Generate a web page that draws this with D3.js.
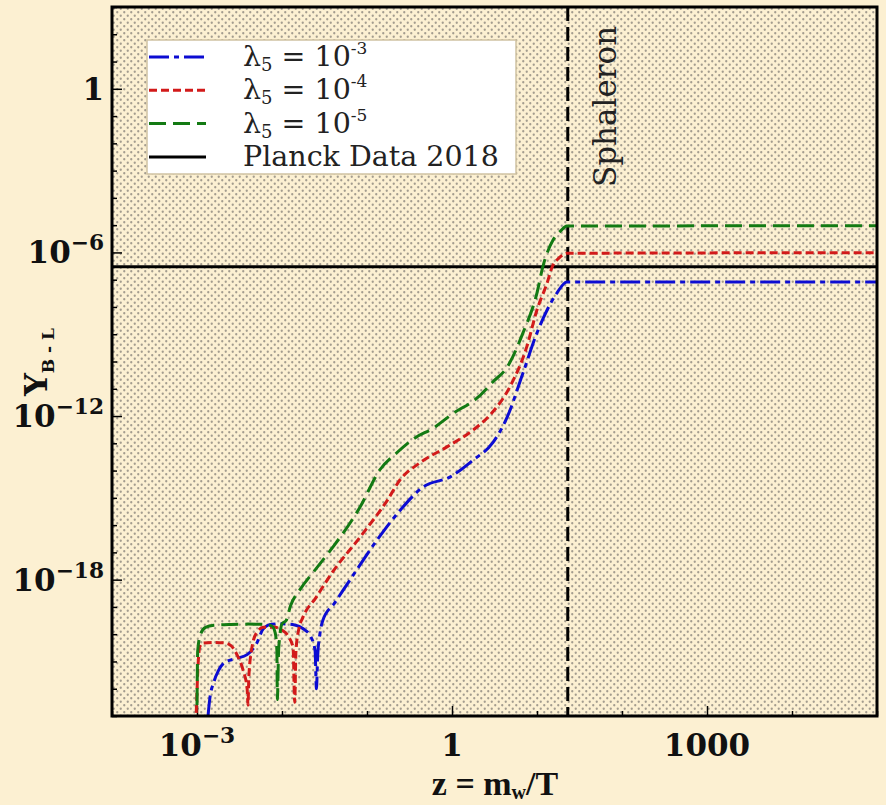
<!DOCTYPE html>
<html>
<head>
<meta charset="utf-8">
<script src="https://cdn.jsdelivr.net/npm/d3@7"></script>
<style>
  html, body { margin: 0; padding: 0; background: #fcf0d2; }
  svg { display: block; }
</style>
</head>
<body>
<svg id="chart" width="886" height="805"></svg>
<script>
// ---- data -------------------------------------------------------------
// z = m_w / T and the B-L asymmetry for three values of lambda_5
const zGreen = [1.0e-3, 1.02e-3, 1.10e-3, 1.26e-3, 1.58e-3, 2.51e-3, 3.98e-3, 6.31e-3, 7.59e-3, 8.32e-3, 8.71e-3, 8.81e-3,
  9.12e-3, 9.33e-3, 1.0e-2, 1.12e-2, 1.26e-2, 1.62e-2, 2.51e-2, 3.98e-2, 8.32e-2, 0.141, 0.224, 0.367, 0.603, 1.0,
  2.04, 3.02, 4.47, 6.84, 10.0, 11.7, 15.5, 19.1, 22.4, 1.0e5];
const yGreen = [2.5e-23, 2.5e-21, 1.0e-20, 1.78e-20, 2.14e-20, 2.29e-20, 2.34e-20, 2.29e-20, 2.0e-20, 1.12e-20, 2.5e-21, 4.0e-23,
  2.5e-21, 6.3e-21, 2.4e-20, 3.2e-20, 1.1e-19, 4.2e-19, 2.5e-18, 1.58e-17, 4.7e-16, 1.05e-14, 4.5e-14, 1.58e-13, 3.6e-13, 1.17e-12,
  5.0e-12, 1.78e-11, 6.3e-11, 1.12e-9, 3.3e-8, 2.95e-7, 2.9e-6, 6.3e-6, 9.3e-6, 9.5e-6];

const zRed = [9.8e-4, 1.035e-3, 1.08e-3, 1.17e-3, 1.58e-3, 2.09e-3, 2.51e-3, 2.95e-3, 3.47e-3, 3.89e-3, 3.98e-3, 4.07e-3,
  4.37e-3, 5.01e-3, 6.03e-3, 7.94e-3, 1.0e-2, 1.20e-2, 1.35e-2, 1.41e-2, 1.46e-2, 1.58e-2, 1.74e-2, 2.51e-2, 3.98e-2,
  8.32e-2, 0.174, 0.245, 0.417, 0.871, 1.78, 2.82, 4.79, 7.59, 10.0, 13.2, 15.1, 18.2, 22.4, 1.0e5];
const yRed = [1.3e-23, 1.0e-21, 3.5e-21, 4.7e-21, 5.0e-21, 4.8e-21, 3.8e-21, 1.78e-21, 5.0e-22, 1.0e-22, 2.5e-23, 2.5e-22,
  2.5e-21, 1.12e-20, 1.78e-20, 1.82e-20, 1.41e-20, 7.9e-21, 3.2e-21, 3.2e-23, 2.5e-21, 1.58e-20, 3.8e-20, 2.2e-19, 2.0e-18,
  3.7e-17, 8.3e-16, 4.6e-15, 1.9e-14, 7.4e-14, 3.1e-13, 1.12e-12, 1.17e-11, 3.5e-10, 7.9e-9, 7.8e-8, 2.95e-7, 6.3e-7, 9.3e-7, 9.8e-7];

const zBlue = [1.35e-3, 1.41e-3, 1.58e-3, 1.78e-3, 2.09e-3, 2.82e-3, 3.89e-3, 5.01e-3, 6.03e-3, 7.59e-3, 1.0e-2, 1.41e-2,
  1.78e-2, 2.19e-2, 2.45e-2, 2.54e-2, 2.63e-2, 2.79e-2, 3.02e-2, 4.17e-2, 6.31e-2, 0.132, 0.245, 0.457, 0.955, 1.78,
  3.02, 4.47, 6.84, 10.0, 13.2, 17.2, 22.4, 1.0e5];
const yBlue = [1.05e-23, 4.0e-23, 1.78e-22, 4.5e-22, 8.9e-22, 1.26e-21, 1.78e-21, 4.5e-21, 1.58e-20, 2.34e-20, 2.4e-20, 2.19e-20,
  1.58e-20, 7.9e-21, 2.5e-21, 1.0e-22, 1.58e-21, 1.0e-20, 3.2e-20, 1.41e-19, 9.8e-19, 2.9e-17, 3.5e-16, 2.5e-15, 5.9e-15, 2.45e-14,
  1.05e-13, 9.3e-13, 3.8e-11, 1.12e-9, 7.9e-9, 3.3e-8, 8.3e-8, 8.3e-8];

const planckValue = 3.0e-7;     // observed asymmetry (horizontal line)
const sphaleronZ = 23;          // sphaleron decoupling (vertical line)

const seriesNames = ["λ5 = 10-3", "λ5 = 10-4", "λ5 = 10-5", "Planck Data 2018"];
const legendExponents = ["-3", "-4", "-5"];

const xMajorTicks = [1e-3, 1, 1e3];
const xMajorLabels = [["10", "−3"], ["1", ""], ["1000", ""]];
const xMinorTicks = [1e-4, 1e-2, 1e-1, 10, 100, 1e4, 1e5];
const yMajorTicks = [1, 1e-6, 1e-12, 1e-18];
const yMajorLabels = [["1", ""], ["10", "−6"], ["10", "−12"], ["10", "−18"]];
const yMinorTicks = [1e3, 1e2, 10, 1e-1, 1e-2, 1e-3, 1e-4, 1e-5, 1e-7, 1e-8, 1e-9, 1e-10, 1e-11,
  1e-13, 1e-14, 1e-15, 1e-16, 1e-17, 1e-19, 1e-20, 1e-21, 1e-22, 1e-23];

// ---- layout -----------------------------------------------------------
const svg = d3.select("#chart");
const W = 886, H = 805;
const plot = { left: 112, right: 877, top: 7, bottom: 716 };

const x = d3.scaleLog().domain([1e-4, 1e5]).range([plot.left, plot.right]);
const y = d3.scaleLog().domain([1e-23, 1e3]).range([plot.bottom, plot.top]);

const defs = svg.append("defs");
// stippled fill of the axes area
const pat = defs.append("pattern")
  .attr("id", "stipple").attr("patternUnits", "userSpaceOnUse")
  .attr("width", 7).attr("height", 7);
pat.append("rect").attr("width", 7).attr("height", 7).attr("fill", "#fcf0d2");
pat.append("circle").attr("cx", 1.75).attr("cy", 1.75).attr("r", 1.15).attr("fill", "#a39c8e");
pat.append("circle").attr("cx", 5.25).attr("cy", 5.25).attr("r", 1.15).attr("fill", "#a39c8e");

defs.append("clipPath").attr("id", "plotClip")
  .append("rect")
  .attr("x", plot.left).attr("y", plot.top)
  .attr("width", plot.right - plot.left).attr("height", plot.bottom - plot.top);

svg.append("rect").attr("width", W).attr("height", H).attr("fill", "#fcf0d2");
svg.append("rect")
  .attr("x", plot.left).attr("y", plot.top)
  .attr("width", plot.right - plot.left).attr("height", plot.bottom - plot.top)
  .attr("fill", "url(#stipple)");

// ---- ticks (inward) ---------------------------------------------------
const tickStyle = g => {
  g.select(".domain").remove();
  g.selectAll(".tick line").attr("stroke", "#000").attr("stroke-width", 1.5);
  g.selectAll(".tick text").remove();
};
svg.append("g").attr("transform", `translate(0,${plot.bottom})`)
  .call(d3.axisBottom(x).tickValues(xMajorTicks).tickSize(-10)).call(tickStyle);
svg.append("g").attr("transform", `translate(0,${plot.bottom})`)
  .call(d3.axisBottom(x).tickValues(xMinorTicks).tickSize(-5)).call(tickStyle);
svg.append("g").attr("transform", `translate(${plot.left},0)`)
  .call(d3.axisLeft(y).tickValues(yMajorTicks).tickSize(-10)).call(tickStyle);
svg.append("g").attr("transform", `translate(${plot.left},0)`)
  .call(d3.axisLeft(y).tickValues(yMinorTicks).tickSize(-5)).call(tickStyle);

// ---- tick labels ------------------------------------------------------
const labelFont = "'DejaVu Serif', serif";
function powerLabel(g, base, exp, size, anchor) {
  const t = g.append("text")
    .attr("font-family", labelFont).attr("font-weight", "bold")
    .attr("font-size", size).attr("fill", "#111").attr("text-anchor", anchor);
  t.append("tspan").text(base);
  if (exp) t.append("tspan").attr("font-size", size * 0.7).attr("dy", -size * 0.42).text(exp);
  return t;
}
xMajorTicks.forEach((v, i) => {
  powerLabel(svg.append("g").attr("transform", `translate(${x(v)},${plot.bottom + 40})`),
    xMajorLabels[i][0], xMajorLabels[i][1], 31, "middle");
});
yMajorTicks.forEach((v, i) => {
  powerLabel(svg.append("g").attr("transform", `translate(${plot.left - 8},${y(v) + 11})`),
    yMajorLabels[i][0], yMajorLabels[i][1], 31, "end");
});

// ---- axis titles ------------------------------------------------------
const xTitle = svg.append("text")
  .attr("x", 495).attr("y", 795)
  .attr("text-anchor", "middle")
  .attr("font-family", "'Liberation Serif', 'DejaVu Serif', serif")
  .attr("font-weight", "bold").attr("font-size", 34).attr("fill", "#111");
xTitle.append("tspan").text("z = m");
xTitle.append("tspan").attr("font-size", 20).attr("dy", 4).text("w");
xTitle.append("tspan").attr("dy", -4).text("/T");

const yTitle = svg.append("text")
  .attr("transform", "translate(47,362) rotate(-90)")
  .attr("text-anchor", "middle")
  .attr("font-family", labelFont)
  .attr("font-weight", "bold").attr("font-size", 32).attr("fill", "#111");
yTitle.append("tspan").text("Y");
yTitle.append("tspan").attr("font-size", 17).attr("dy", 7).text("B - L");

// ---- curves -----------------------------------------------------------
const plotArea = svg.append("g").attr("clip-path", "url(#plotClip)");

const line = d3.line()
  .x(d => x(d[0])).y(d => y(d[1]))
  .curve(d3.curveMonotoneX);

const series = [
  { z: zBlue, v: yBlue, color: "#0c0cd2", dash: "20,5,5,5" },
  { z: zRed, v: yRed, color: "#d21a1a", dash: "8,4" },
  { z: zGreen, v: yGreen, color: "#137a13", dash: "17,7" }
];

// reference lines
plotArea.append("line")
  .attr("x1", plot.left).attr("x2", plot.right)
  .attr("y1", y(planckValue)).attr("y2", y(planckValue))
  .attr("stroke", "#000").attr("stroke-width", 3);
plotArea.append("line")
  .attr("x1", x(sphaleronZ)).attr("x2", x(sphaleronZ))
  .attr("y1", plot.top).attr("y2", plot.bottom)
  .attr("stroke", "#000").attr("stroke-width", 3)
  .attr("stroke-dasharray", "14,6");

series.forEach(s => {
  plotArea.append("path")
    .datum(s.z.map((z, i) => [z, s.v[i]]))
    .attr("d", line)
    .attr("fill", "none")
    .attr("stroke", s.color)
    .attr("stroke-width", 3)
    .attr("stroke-dasharray", s.dash);
});

// sphaleron label
svg.append("text")
  .attr("transform", `translate(${x(sphaleronZ) + 48},187) rotate(-90)`)
  .attr("font-family", labelFont).attr("font-size", 31).attr("fill", "#222")
  .text("Sphaleron");

// ---- frame ------------------------------------------------------------
svg.append("rect")
  .attr("x", plot.left).attr("y", plot.top)
  .attr("width", plot.right - plot.left).attr("height", plot.bottom - plot.top)
  .attr("fill", "none").attr("stroke", "#000").attr("stroke-width", 3);

// ---- legend -----------------------------------------------------------
const legend = svg.append("g");
legend.append("rect")
  .attr("x", 147).attr("y", 40).attr("width", 369).attr("height", 134)
  .attr("fill", "#ffffff").attr("stroke", "#cfc2a2").attr("stroke-width", 1.5);

const legendRows = [
  { color: series[0].color, dash: series[0].dash },
  { color: series[1].color, dash: series[1].dash },
  { color: series[2].color, dash: series[2].dash },
  { color: "#000", dash: null }
];
legendRows.forEach((r, i) => {
  const cy = 57 + i * 33.3;
  legend.append("line")
    .attr("x1", 149).attr("x2", 206).attr("y1", cy).attr("y2", cy)
    .attr("stroke", r.color).attr("stroke-width", 3)
    .attr("stroke-dasharray", r.dash);
  const t = legend.append("text")
    .attr("x", 243).attr("y", cy + 9)
    .attr("font-family", labelFont).attr("font-size", 28.5).attr("fill", "#222");
  if (i < 3) {
    t.append("tspan").text("λ");
    t.append("tspan").attr("font-size", 18).attr("dy", 5).text("5");
    t.append("tspan").attr("dy", -5).text(" = 10");
    t.append("tspan").attr("font-size", 17).attr("dy", -12).text(legendExponents[i]);
  } else {
    t.text(seriesNames[3]);
  }
});
</script>
</body>
</html>
